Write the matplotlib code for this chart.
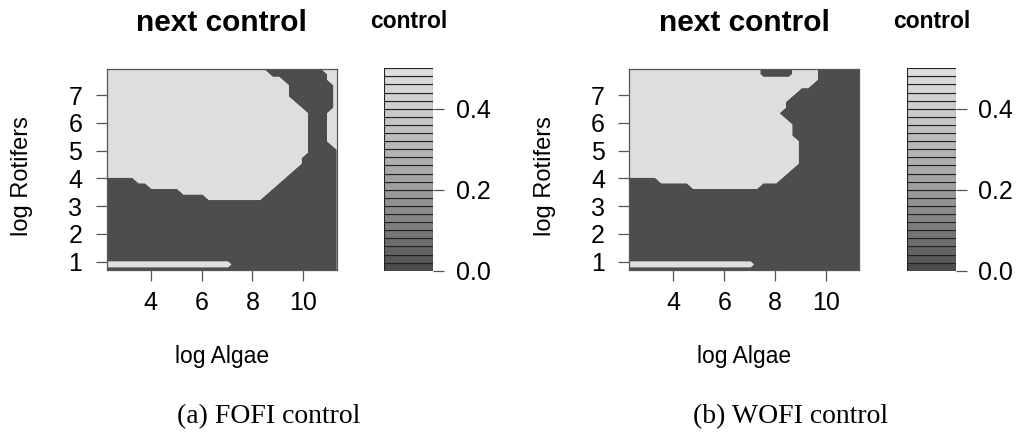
import numpy as np
import matplotlib
matplotlib.use("Agg")
import matplotlib.pyplot as plt

# ---------------- data ----------------
log_algae = np.linspace(2.27, 11.31, 37)      # grid columns
log_rotifers = np.linspace(0.70, 7.96, 37)    # grid rows (bottom first)
x_ticks = [4, 6, 8, 10]
y_ticks = [1, 2, 3, 4, 5, 6, 7]
cbar_ticks = [0.0, 0.2, 0.4]
cbar_tick_labels = ["0.0", "0.2", "0.4"]
cbar_levels = np.round(np.arange(0.0, 0.5001, 0.02), 2)

# control value on the grid, one digit per cell: '0' -> 0.0, '5' -> 0.5
fofi_rows = [
    "0000000000" "0000000000" "0000000000" "0000000",  # 0
    "5555555555" "5555555555" "0000000000" "0000000",  # 1
    "0000000000" "0000000000" "0000000000" "0000000",  # 2
    "0000000000" "0000000000" "0000000000" "0000000",  # 3
    "0000000000" "0000000000" "0000000000" "0000000",  # 4
    "0000000000" "0000000000" "0000000000" "0000000",  # 5
    "0000000000" "0000000000" "0000000000" "0000000",  # 6
    "0000000000" "0000000000" "0000000000" "0000000",  # 7
    "0000000000" "0000000000" "0000000000" "0000000",  # 8
    "0000000000" "0000000000" "0000000000" "0000000",  # 9
    "0000000000" "0000000000" "0000000000" "0000000",  # 10
    "0000000000" "0000000000" "0000000000" "0000000",  # 11
    "0000000000" "0000000000" "0000000000" "0000000",  # 12
    "0000000000" "0000005555" "5555500000" "0000000",  # 13
    "0000000000" "0055555555" "5555550000" "0000000",  # 14
    "0000000555" "5555555555" "5555555000" "0000000",  # 15
    "0000055555" "5555555555" "5555555500" "0000000",  # 16
    "5555555555" "5555555555" "5555555550" "0000000",  # 17
    "5555555555" "5555555555" "5555555555" "0000000",  # 18
    "5555555555" "5555555555" "5555555555" "5000000",  # 19
    "5555555555" "5555555555" "5555555555" "5000000",  # 20
    "5555555555" "5555555555" "5555555555" "5500000",  # 21
    "5555555555" "5555555555" "5555555555" "5500005",  # 22
    "5555555555" "5555555555" "5555555555" "5500055",  # 23
    "5555555555" "5555555555" "5555555555" "5500055",  # 24
    "5555555555" "5555555555" "5555555555" "5500055",  # 25
    "5555555555" "5555555555" "5555555555" "5500055",  # 26
    "5555555555" "5555555555" "5555555555" "5500055",  # 27
    "5555555555" "5555555555" "5555555555" "5500055",  # 28
    "5555555555" "5555555555" "5555555555" "5000005",  # 29
    "5555555555" "5555555555" "5555555555" "0000005",  # 30
    "5555555555" "5555555555" "5555555550" "0000005",  # 31
    "5555555555" "5555555555" "5555555550" "0000005",  # 32
    "5555555555" "5555555555" "5555555550" "0000005",  # 33
    "5555555555" "5555555555" "5555555500" "0000055",  # 34
    "5555555555" "5555555555" "5555550000" "0000055",  # 35
    "5555555555" "5555555555" "5555500000" "0000555",  # 36
]

wofi_rows = [
    "0000000000" "0000000000" "0000000000" "0000000",  # 0
    "5555555555" "5555555555" "0000000000" "0000000",  # 1
    "0000000000" "0000000000" "0000000000" "0000000",  # 2
    "0000000000" "0000000000" "0000000000" "0000000",  # 3
    "0000000000" "0000000000" "0000000000" "0000000",  # 4
    "0000000000" "0000000000" "0000000000" "0000000",  # 5
    "0000000000" "0000000000" "0000000000" "0000000",  # 6
    "0000000000" "0000000000" "0000000000" "0000000",  # 7
    "0000000000" "0000000000" "0000000000" "0000000",  # 8
    "0000000000" "0000000000" "0000000000" "0000000",  # 9
    "0000000000" "0000000000" "0000000000" "0000000",  # 10
    "0000000000" "0000000000" "0000000000" "0000000",  # 11
    "0000000000" "0000000000" "0000000000" "0000000",  # 12
    "0000000000" "0000000000" "0000000000" "0000000",  # 13
    "0000000000" "0000000000" "0000000000" "0000000",  # 14
    "0000000000" "5555555555" "5000000000" "0000000",  # 15
    "0000055555" "5555555555" "5555000000" "0000000",  # 16
    "5555555555" "5555555555" "5555500000" "0000000",  # 17
    "5555555555" "5555555555" "5555550000" "0000000",  # 18
    "5555555555" "5555555555" "5555555000" "0000000",  # 19
    "5555555555" "5555555555" "5555555000" "0000000",  # 20
    "5555555555" "5555555555" "5555555000" "0000000",  # 21
    "5555555555" "5555555555" "5555555000" "0000000",  # 22
    "5555555555" "5555555555" "5555555000" "0000000",  # 23
    "5555555555" "5555555555" "5555550000" "0000000",  # 24
    "5555555555" "5555555555" "5555550000" "0000000",  # 25
    "5555555555" "5555555555" "5555550000" "0000000",  # 26
    "5555555555" "5555555555" "5555500000" "0000000",  # 27
    "5555555555" "5555555555" "5555000000" "0000000",  # 28
    "5555555555" "5555555555" "5555500000" "0000000",  # 29
    "5555555555" "5555555555" "5555500000" "0000000",  # 30
    "5555555555" "5555555555" "5555550000" "0000000",  # 31
    "5555555555" "5555555555" "5555555000" "0000000",  # 32
    "5555555555" "5555555555" "5555555550" "0000000",  # 33
    "5555555555" "5555555555" "5555555555" "0000000",  # 34
    "5555555555" "5555555555" "5000005555" "0000000",  # 35
    "5555555555" "5555555555" "5000005555" "0000000",  # 36
]

panel_titles = ["next control", "next control"]
cbar_title = "control"
x_label = "log Algae"
y_label = "log Rotifers"
captions = ["(a) FOFI control", "(b) WOFI control"]


def to_grid(rows):
    return np.array([[int(c) / 10.0 for c in r] for r in rows])


# ---------------- style ----------------
plt.rcParams["font.family"] = ["Liberation Sans", "DejaVu Sans"]
W, H = 1025, 434
fig = plt.figure(figsize=(W / 100, H / 100), dpi=100)


def px_axes(x0, y0, x1, y1):
    return fig.add_axes([x0 / W, 1 - y1 / H, (x1 - x0) / W, (y1 - y0) / H])


n_bands = len(cbar_levels) - 1
g0, g1, gamma = 0.30, 0.87, 2.2
greys = [((g0 ** gamma + k / (n_bands - 1) * (g1 ** gamma - g0 ** gamma)) ** (1 / gamma))
         for k in range(n_bands)]
band_colors = [(g, g, g) for g in greys]
dark, light = band_colors[0], band_colors[-1]

grids = [to_grid(fofi_rows), to_grid(wofi_rows)]
offset = 522.6
tick_col = "#555555"

for p in range(2):
    dx = p * offset
    ax = px_axes(106.7 + dx, 68.5, 336.7 + dx, 270.0)
    ax.contourf(log_algae, log_rotifers, grids[p], levels=[-0.01, 0.25, 0.51],
                colors=[dark, light], antialiased=True)
    ax.set_xlim(2.27, 11.31)
    ax.set_ylim(0.70, 7.96)
    ax.set_xticks(x_ticks)
    ax.set_xticklabels([str(t) for t in x_ticks])
    ax.set_yticks(y_ticks)
    ax.set_yticklabels([str(t) for t in y_ticks])
    ax.tick_params(axis="both", direction="out", length=8, width=0.9,
                   color=tick_col, labelsize=18)
    ax.tick_params(axis="x", pad=7)
    ax.tick_params(axis="y", pad=9.5)
    for s in ax.spines.values():
        s.set_color("#555555")
        s.set_linewidth(0.9)

    # colour key
    cax = px_axes(384.0 + dx, 68.3, 433.3 + dx, 270.7)
    for k in range(n_bands):
        cax.bar(0.5, cbar_levels[k + 1] - cbar_levels[k], bottom=cbar_levels[k],
                width=1.0, color=band_colors[k], edgecolor="#222222", linewidth=0.8)
    cax.set_xlim(0, 1)
    cax.set_ylim(cbar_levels[0], cbar_levels[-1])
    cax.set_xticks([])
    cax.yaxis.tick_right()
    cax.set_yticks(cbar_ticks)
    cax.set_yticklabels(cbar_tick_labels)
    cax.tick_params(axis="y", direction="out", length=8, width=0.9,
                    color=tick_col, labelsize=18, pad=8)
    for s in cax.spines.values():
        s.set_visible(False)

    # texts
    fig.text((221.7 + dx) / W, 1 - 30.7 / H, panel_titles[p], ha="center",
             va="baseline", fontsize=21.5, fontweight="bold")
    fig.text((408.7 + dx) / W, 1 - 28.3 / H, cbar_title, ha="center",
             va="baseline", fontsize=16.5, fontweight="bold")
    fig.text((221.7 + dx) / W, 1 - 362.7 / H, x_label, ha="center",
             va="baseline", fontsize=16.5)
    fig.text((22.0 + dx) / W, 1 - 176.0 / H, y_label, ha="center",
             va="center", rotation=90, fontsize=17)
    fig.text((268.4 + dx) / W, 1 - 423.0 / H, captions[p], ha="center",
             va="baseline", fontsize=20, family=["Liberation Serif", "DejaVu Serif"])

fig.savefig("out.png", dpi=100)
